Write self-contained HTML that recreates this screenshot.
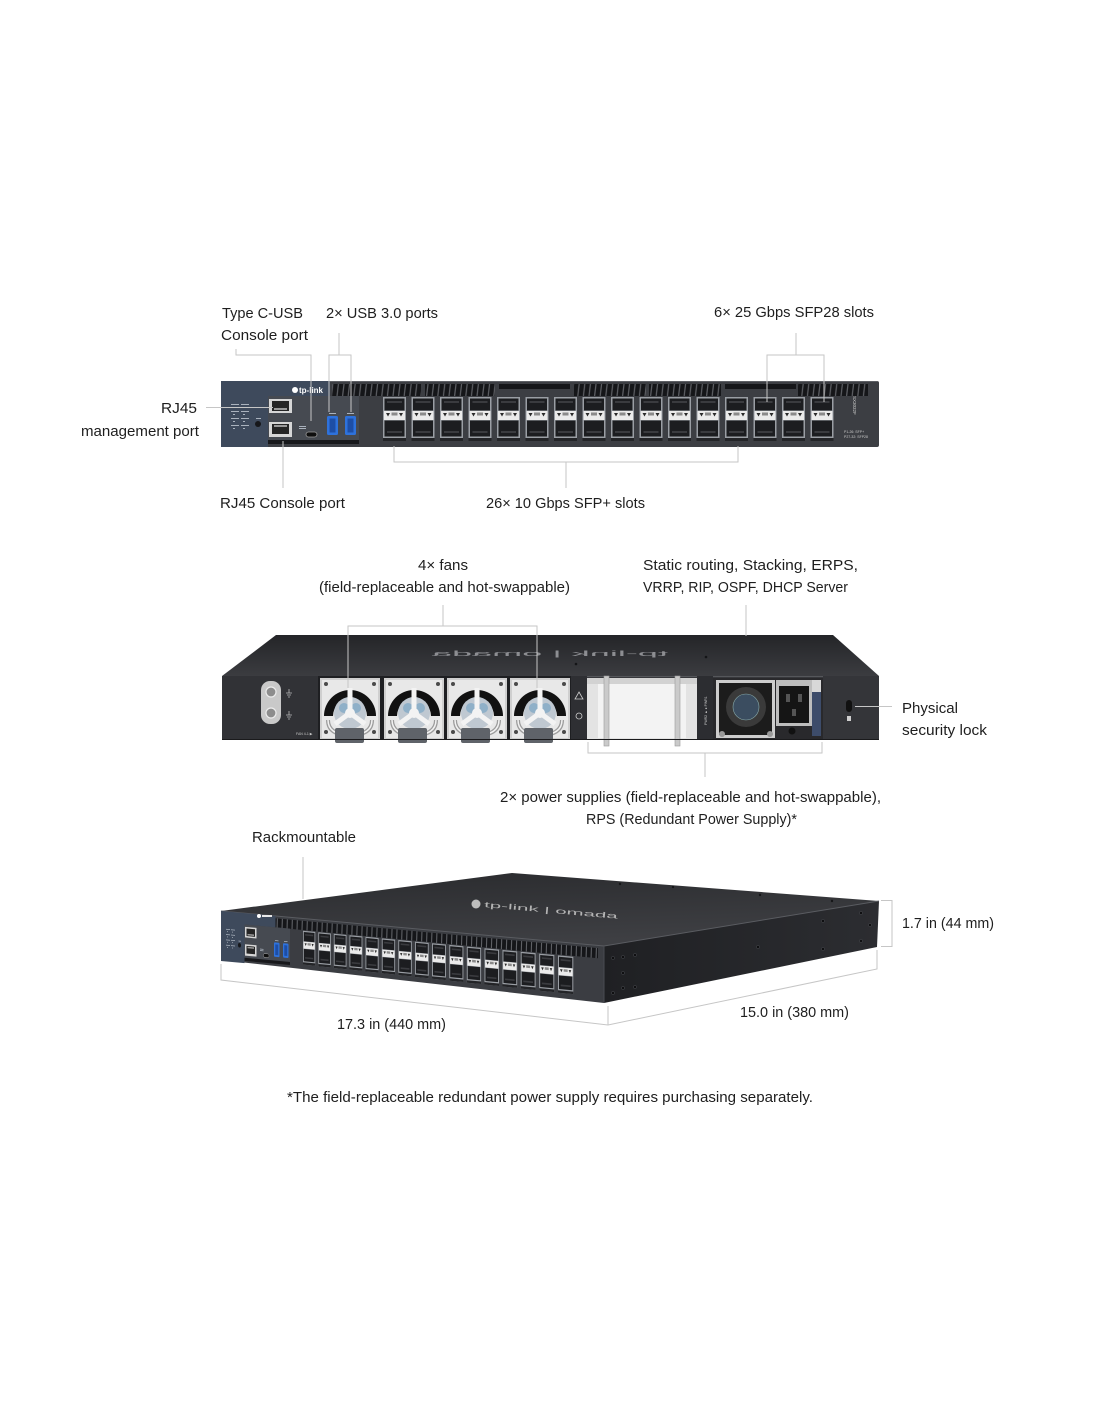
<!DOCTYPE html>
<html><head><meta charset="utf-8"><style>
html,body{margin:0;padding:0;background:#fff;}
svg{display:block;}
.t{font-family:"Liberation Sans",Arial,sans-serif;font-size:15px;fill:#1e1e1e;}
.ln{stroke:#c6c6c6;stroke-width:1;fill:none;}
</style></head><body>
<svg width="1100" height="1422" viewBox="0 0 1100 1422" xmlns="http://www.w3.org/2000/svg">
<defs>
 <pattern id="vent" width="5.6" height="12" patternUnits="userSpaceOnUse">
  <rect width="5.6" height="12" fill="#151619"/>
  <path d="M1 12 L2.4 0" stroke="#5e6065" stroke-width="1.2"/>
 </pattern>
 <pattern id="vent2" width="5" height="60" patternUnits="userSpaceOnUse">
  <rect width="5" height="60" fill="#151619"/>
  <path d="M1 60 L3 0" stroke="#5e6065" stroke-width="1.1"/>
 </pattern>
 <linearGradient id="top2" x1="0" y1="0" x2="0" y2="1">
  <stop offset="0" stop-color="#242528"/><stop offset="1" stop-color="#3b3c40"/>
 </linearGradient>
 <linearGradient id="top3" x1="0" y1="0" x2="0.3" y2="1">
  <stop offset="0" stop-color="#2a2b2e"/><stop offset="1" stop-color="#3e3f43"/>
 </linearGradient>
 <linearGradient id="side3" x1="0" y1="0" x2="1" y2="0">
  <stop offset="0" stop-color="#1f2023"/><stop offset="1" stop-color="#2c2d31"/>
 </linearGradient>
 <g id="sfp">
  <rect x="0" y="0" width="23" height="44" fill="#9a9ea4"/>
  <rect x="1.5" y="1.5" width="20" height="12" fill="#1c1d20"/>
  <rect x="4" y="4" width="15" height="2" fill="#3a3b3f"/>
  <rect x="1" y="14" width="21" height="9" fill="#ebebeb"/>
  <path d="M3 16 L7 16 L5 19.5 Z M16 16 L20 16 L18 19.5 Z" fill="#2a2a2a"/>
  <rect x="8.5" y="15.5" width="6" height="3" fill="#8a8a8a"/>
  <rect x="1.5" y="23.5" width="20" height="16" fill="#1c1d20"/>
  <rect x="4" y="34" width="15" height="2" fill="#3a3b3f"/>
  <rect x="0" y="41" width="23" height="3" fill="#232427"/>
 </g>
 <g id="fpleft">
  <rect x="0" y="0" width="47" height="66" fill="#3e4a5c"/>
  <rect x="47" y="0" width="62" height="15" fill="#3e4a5c"/>
  <rect x="47" y="15" width="91" height="44" fill="#464a51"/>
  <rect x="47" y="59" width="91" height="4" fill="#17181b"/>
  <rect x="48" y="18" width="23" height="14" fill="#d6d6d6"/>
  <rect x="51" y="20" width="17" height="10" fill="#252525"/>
  <rect x="53" y="27" width="13" height="2" fill="#9a9a9a"/>
  <rect x="48" y="41" width="23" height="15" fill="#d6d6d6"/>
  <rect x="51" y="43" width="17" height="10" fill="#252525"/>
  <rect x="53" y="44" width="13" height="2" fill="#9a9a9a"/>
  <rect x="85" y="51" width="11" height="5" rx="2.5" fill="#0e0e0e" stroke="#9a9a9a" stroke-width="0.8"/>
  <rect x="106" y="35" width="11" height="19" rx="1.5" fill="#2e72dc"/>
  <rect x="108.5" y="37.5" width="6" height="14" fill="#1d4ea6"/>
  <rect x="124" y="35" width="11" height="19" rx="1.5" fill="#2e72dc"/>
  <rect x="126.5" y="37.5" width="6" height="14" fill="#1d4ea6"/>
  <circle cx="37" cy="43" r="3" fill="#16171a"/>
  <g fill="#aab2bd">
   <rect x="10" y="23" width="8" height="1"/><rect x="20" y="23" width="8" height="1"/>
   <rect x="12" y="26" width="2" height="1"/><rect x="22" y="26" width="2" height="1"/>
   <rect x="10" y="30" width="8" height="1"/><rect x="20" y="30" width="8" height="1"/>
   <rect x="12" y="33" width="2" height="1"/><rect x="22" y="33" width="2" height="1"/>
   <rect x="10" y="37" width="8" height="1"/><rect x="20" y="37" width="8" height="1"/>
   <rect x="12" y="40" width="2" height="1"/><rect x="22" y="40" width="2" height="1"/>
   <rect x="10" y="44" width="8" height="1"/><rect x="20" y="44" width="8" height="1"/>
   <rect x="12" y="47" width="2" height="1"/><rect x="22" y="47" width="2" height="1"/>
   <rect x="35" y="37" width="5" height="1"/>
  </g>
  <rect x="78" y="45" width="7" height="1" fill="#aab2bd"/>
  <rect x="78" y="47" width="7" height="1" fill="#aab2bd"/>
  <rect x="108" y="32" width="7" height="1" fill="#aab2bd"/>
  <rect x="126" y="32" width="7" height="1" fill="#aab2bd"/>
 </g>
 <g id="fan">
  <rect width="60" height="62" fill="#cfcfcf"/>
  <rect x="2" y="2" width="56" height="58" fill="#e8e8e8"/>
  <path d="M4 38 A26 26 0 0 1 56 38 L47 38 A17 17 0 0 0 13 38 Z" fill="#111"/>
  <circle cx="30" cy="35" r="16" fill="#bfc8d1"/>
  <circle cx="24" cy="30" r="5" fill="#8fb0c8"/>
  <circle cx="36" cy="30" r="5" fill="#8fb0c8"/>
  <path d="M30 35 L30 10 M30 35 L15 46 M30 35 L45 46" stroke="#f3f3f3" stroke-width="5"/>
  <circle cx="30" cy="35" r="5" fill="#f3f3f3"/>
  <path d="M8 42 Q8 57 30 57 Q52 57 52 42" fill="none" stroke="#9c9c9c" stroke-width="4"/>
  <path d="M8 42 Q8 57 30 57 Q52 57 52 42" fill="none" stroke="#f2f2f2" stroke-width="1.5"/>
  <circle cx="6" cy="6" r="2" fill="#4a4a4a"/><circle cx="54" cy="6" r="2" fill="#4a4a4a"/>
  <circle cx="6" cy="54" r="2" fill="#4a4a4a"/><circle cx="54" cy="54" r="2" fill="#4a4a4a"/>
 </g>
</defs>

<rect width="1100" height="1422" fill="#fff"/>

<!-- ============ SECTION 1: FRONT PANEL ============ -->
<rect x="221" y="381" width="658" height="66" rx="2" fill="#3c3e43"/>
<line x1="222" y1="381.5" x2="878" y2="381.5" stroke="#5d5f64" stroke-width="1"/>
<rect x="332" y="384" width="89" height="12" fill="url(#vent)"/>
<rect x="425" y="384" width="70" height="12" fill="url(#vent)"/>
<rect x="499" y="384" width="71" height="5" fill="#151619"/>
<rect x="574" y="384" width="72" height="12" fill="url(#vent)"/>
<rect x="649" y="384" width="72" height="12" fill="url(#vent)"/>
<rect x="725" y="384" width="71" height="5" fill="#151619"/>
<rect x="798" y="384" width="70" height="12" fill="url(#vent)"/>
<use href="#fpleft" transform="translate(221,381)"/>
<circle cx="295" cy="390" r="3" fill="#fff"/>
<text x="299" y="393" font-family="Liberation Sans,Arial,sans-serif" font-size="8" font-weight="bold" fill="#fff">tp-link</text>
<use href="#sfp" x="383" y="397"/>
<use href="#sfp" x="411.5" y="397"/>
<use href="#sfp" x="440" y="397"/>
<use href="#sfp" x="468.5" y="397"/>
<use href="#sfp" x="497" y="397"/>
<use href="#sfp" x="525.5" y="397"/>
<use href="#sfp" x="554" y="397"/>
<use href="#sfp" x="582.5" y="397"/>
<use href="#sfp" x="611" y="397"/>
<use href="#sfp" x="639.5" y="397"/>
<use href="#sfp" x="668" y="397"/>
<use href="#sfp" x="696.5" y="397"/>
<use href="#sfp" x="725" y="397"/>
<use href="#sfp" x="753.5" y="397"/>
<use href="#sfp" x="782" y="397"/>
<use href="#sfp" x="810.5" y="397"/>
<text transform="translate(853,396) rotate(90)" font-family="Liberation Sans,Arial,sans-serif" font-size="4.5" fill="#c9c9c9">SX3032F</text>
<text x="844" y="433" font-family="Liberation Sans,Arial,sans-serif" font-size="3.5" fill="#c9c9c9">P1-26: SFP+</text>
<text x="844" y="438" font-family="Liberation Sans,Arial,sans-serif" font-size="3.5" fill="#c9c9c9">P27-32: SFP28</text>

<!-- connectors sec 1 -->
<path class="ln" d="M236 349 V355 H311 V421"/>
<path class="ln" d="M339 333 V355"/>
<path class="ln" d="M329 412 V355 H351 V412"/>
<path class="ln" d="M796 333 V355"/>
<path class="ln" d="M767 402 V355 H824 V402"/>
<path class="ln" d="M206 407.5 H273"/>
<path class="ln" d="M283 441 V488"/>
<path class="ln" d="M394 446 V462 H738 V446"/>
<path class="ln" d="M566 462 V488"/>

<text class="t" x="222" y="318" textLength="81" lengthAdjust="spacingAndGlyphs">Type C-USB</text>
<text class="t" x="221" y="340" textLength="87" lengthAdjust="spacingAndGlyphs">Console port</text>
<text class="t" x="326" y="318" textLength="112" lengthAdjust="spacingAndGlyphs">2× USB 3.0 ports</text>
<text class="t" x="714" y="317" textLength="160" lengthAdjust="spacingAndGlyphs">6× 25 Gbps SFP28 slots</text>
<text class="t" x="161" y="413" textLength="36" lengthAdjust="spacingAndGlyphs">RJ45</text>
<text class="t" x="81" y="436" textLength="118" lengthAdjust="spacingAndGlyphs">management port</text>
<text class="t" x="220" y="508" textLength="125" lengthAdjust="spacingAndGlyphs">RJ45 Console port</text>
<text class="t" x="486" y="508" textLength="159" lengthAdjust="spacingAndGlyphs">26× 10 Gbps SFP+ slots</text>

<!-- ============ SECTION 2: REAR ============ -->
<polygon points="276,635 833,635 879,676 222,676" fill="url(#top2)"/>
<text transform="translate(550,656) scale(-1,0.45)" text-anchor="middle" font-family="Liberation Sans,Arial,sans-serif" font-size="16" fill="#8d8e92" textLength="236" lengthAdjust="spacingAndGlyphs">tp-link | omada</text>
<circle cx="706" cy="657" r="1.3" fill="#141517"/>
<circle cx="576" cy="664" r="1.3" fill="#141517"/>
<rect x="222" y="676" width="657" height="64" fill="#37383c"/>
<line x1="222" y1="676.5" x2="879" y2="676.5" stroke="#55575b"/>
<rect x="222" y="676" width="96" height="64" fill="#313236"/>
<rect x="261" y="681" width="20" height="43" rx="9" fill="#c9c9c9"/>
<circle cx="271" cy="692" r="5" fill="#8d8d8d" stroke="#ececec" stroke-width="1.2"/>
<circle cx="271" cy="713" r="5" fill="#8d8d8d" stroke="#ececec" stroke-width="1.2"/>
<path d="M286 693 H292 M289 689 V693 M287 695 H291 M288 697 H290 M286 715 H292 M289 711 V715 M287 717 H291 M288 719 H290" stroke="#bbb" stroke-width="0.8"/>
<text x="296" y="735" font-family="Liberation Sans,Arial,sans-serif" font-size="3.5" fill="#c9c9c9">FAN 4-1 ▶</text>
<rect x="318" y="676" width="253" height="64" fill="#1e1f22"/>
<use href="#fan" x="320" y="678"/>
<use href="#fan" x="384" y="678"/>
<use href="#fan" x="447" y="678"/>
<use href="#fan" x="510" y="678"/>
<rect x="335" y="728" width="29" height="15" rx="2" fill="#5f6369"/>
<rect x="398" y="728" width="29" height="15" rx="2" fill="#5f6369"/>
<rect x="461" y="728" width="29" height="15" rx="2" fill="#5f6369"/>
<rect x="524" y="728" width="29" height="15" rx="2" fill="#5f6369"/>
<rect x="571" y="676" width="16" height="64" fill="#2e2f33"/>
<path d="M579 692 L583 699 L575 699 Z" fill="none" stroke="#cfcfcf" stroke-width="0.8"/>
<circle cx="579" cy="716" r="3" fill="none" stroke="#cfcfcf" stroke-width="0.8"/>
<rect x="587" y="678" width="110" height="62" fill="#e3e3e3"/>
<rect x="598" y="684" width="88" height="54" fill="#f3f3f3"/>
<rect x="587" y="678" width="110" height="6" fill="#d2d2d2"/>
<rect x="604" y="676" width="5" height="70" fill="#cacaca" stroke="#9a9a9a" stroke-width="0.6"/>
<rect x="675" y="676" width="5" height="70" fill="#cacaca" stroke="#9a9a9a" stroke-width="0.6"/>
<rect x="697" y="676" width="16" height="64" fill="#2c2d31"/>
<text transform="translate(707,725) rotate(-90)" font-family="Liberation Sans,Arial,sans-serif" font-size="3.5" fill="#c9c9c9">PWR2 ▲ ● PWR1</text>
<rect x="713" y="678" width="110" height="62" fill="#29292c"/>
<rect x="716" y="680" width="59" height="58" fill="#cdcdcd"/>
<rect x="719" y="683" width="53" height="52" fill="#1c1c1c"/>
<circle cx="746" cy="707" r="20" fill="#3a3a3a"/>
<circle cx="746" cy="707" r="13" fill="#3b4d60" stroke="#8aa" stroke-width="0.6"/>
<circle cx="722" cy="734" r="3" fill="#999"/><circle cx="770" cy="734" r="3" fill="#999"/>
<rect x="776" y="680" width="36" height="46" fill="#bdbdbd"/>
<rect x="779" y="686" width="30" height="37" fill="#151515"/>
<rect x="786" y="694" width="4" height="8" fill="#555"/><rect x="798" y="694" width="4" height="8" fill="#555"/>
<rect x="792" y="709" width="4" height="7" fill="#555"/>
<circle cx="792" cy="731" r="3.5" fill="#111"/>
<rect x="812" y="688" width="9" height="48" fill="#3d4c6a"/>
<rect x="812" y="680" width="9" height="12" fill="#d8d8d8"/>
<rect x="823" y="676" width="56" height="64" fill="#343539"/>
<rect x="846" y="700" width="6" height="12" rx="3" fill="#111"/>
<rect x="847" y="716" width="4" height="5" fill="#cfcfcf"/>
<line x1="222" y1="739.5" x2="879" y2="739.5" stroke="#1a1a1c"/>

<!-- connectors sec 2 -->
<path class="ln" d="M443 605 V626"/>
<path class="ln" d="M348 688 V626 H537 V688"/>
<path class="ln" d="M746 605 V636"/>
<path class="ln" d="M855 706.5 H892"/>
<path class="ln" d="M588 742 V753 H822 V742"/>
<path class="ln" d="M705 753 V777"/>

<text class="t" x="418" y="570" textLength="50" lengthAdjust="spacingAndGlyphs">4× fans</text>
<text class="t" x="319" y="592" textLength="251" lengthAdjust="spacingAndGlyphs">(field-replaceable and hot-swappable)</text>
<text class="t" x="643" y="570" textLength="215" lengthAdjust="spacingAndGlyphs">Static routing, Stacking, ERPS,</text>
<text class="t" x="643" y="592" textLength="205" lengthAdjust="spacingAndGlyphs">VRRP, RIP, OSPF, DHCP Server</text>
<text class="t" x="902" y="713" textLength="56" lengthAdjust="spacingAndGlyphs">Physical</text>
<text class="t" x="902" y="735" textLength="85" lengthAdjust="spacingAndGlyphs">security lock</text>
<text class="t" x="500" y="802" textLength="381" lengthAdjust="spacingAndGlyphs">2× power supplies (field-replaceable and hot-swappable),</text>
<text class="t" x="586" y="824" textLength="211" lengthAdjust="spacingAndGlyphs">RPS (Redundant Power Supply)*</text>

<!-- ============ SECTION 3: 3/4 VIEW ============ -->
<polygon points="221,911 512,873 879,901 604,946" fill="url(#top3)"/>
<polygon points="604,946 879,901 877,947 604,1003" fill="url(#side3)"/>
<polygon points="221,911 604,946 604,1003 222,960" fill="#3b3d42"/>
<polyline points="221,911 604,946 879,901" fill="none" stroke="#5a5c61" stroke-width="1"/>
<line x1="604" y1="946" x2="604" y2="1003" stroke="#4a4c51"/>
<circle cx="476" cy="904" r="4.5" fill="#bdbdbd"/>
<text transform="translate(484,907) rotate(5) scale(1,0.55)" font-family="Liberation Sans,Arial,sans-serif" font-size="14" fill="#b4b4b4" textLength="134" lengthAdjust="spacingAndGlyphs">tp-link | omada</text>
<circle cx="673" cy="887" r="1.2" fill="#151618"/>
<circle cx="760" cy="895" r="1.2" fill="#151618"/>
<circle cx="832" cy="901" r="1.2" fill="#151618"/>
<circle cx="620" cy="884" r="1.2" fill="#151618"/>
<polygon points="275,918.2 598,948.1 598,958.3 275,927.4" fill="url(#vent2)"/>
<use href="#fpleft" transform="matrix(0.5,0.0457,0,0.757,221,911)"/>
<circle cx="259" cy="916" r="2" fill="#fff"/>
<rect x="262" y="915" width="10" height="2" fill="#e8e8e8"/>
<use href="#sfp" transform="matrix(0.5345,0.0489,0,0.7684,303.0,930.8)"/>
<use href="#sfp" transform="matrix(0.5432,0.0496,0,0.7732,318.3,932.3)"/>
<use href="#sfp" transform="matrix(0.5519,0.0504,0,0.7782,333.8,933.8)"/>
<use href="#sfp" transform="matrix(0.5607,0.0512,0,0.7832,349.5,935.2)"/>
<use href="#sfp" transform="matrix(0.5694,0.0520,0,0.7882,365.5,936.8)"/>
<use href="#sfp" transform="matrix(0.5781,0.0528,0,0.7933,381.8,938.4)"/>
<use href="#sfp" transform="matrix(0.5868,0.0536,0,0.7986,398.3,940.0)"/>
<use href="#sfp" transform="matrix(0.5955,0.0544,0,0.8038,415.0,941.6)"/>
<use href="#sfp" transform="matrix(0.6043,0.0552,0,0.8092,432.0,943.2)"/>
<use href="#sfp" transform="matrix(0.6130,0.0560,0,0.8147,449.3,944.9)"/>
<use href="#sfp" transform="matrix(0.6217,0.0568,0,0.8203,466.8,946.6)"/>
<use href="#sfp" transform="matrix(0.6304,0.0576,0,0.8259,484.5,948.3)"/>
<use href="#sfp" transform="matrix(0.6391,0.0584,0,0.8315,502.5,950.0)"/>
<use href="#sfp" transform="matrix(0.6479,0.0592,0,0.8373,520.7,951.8)"/>
<use href="#sfp" transform="matrix(0.6566,0.0600,0,0.8432,539.2,953.6)"/>
<use href="#sfp" transform="matrix(0.6653,0.0608,0,0.8491,558.0,955.4)"/>
<g fill="#0f0f11" stroke="#4d4f54" stroke-width="0.5">
 <circle cx="613" cy="958" r="1.6"/><circle cx="623" cy="957" r="1.6"/><circle cx="635" cy="955" r="1.6"/>
 <circle cx="623" cy="973" r="1.6"/><circle cx="623" cy="988" r="1.6"/><circle cx="635" cy="987" r="1.6"/>
 <circle cx="613" cy="993" r="1.6"/><circle cx="758" cy="947" r="1.6"/><circle cx="823" cy="921" r="1.6"/>
 <circle cx="823" cy="949" r="1.6"/><circle cx="861" cy="913" r="1.6"/><circle cx="861" cy="941" r="1.6"/>
 <circle cx="870" cy="925" r="1.6"/>
</g>

<!-- connectors sec 3 -->
<path class="ln" d="M303 857 V899"/>
<path class="ln" d="M221 964 V980 L608 1025 L877 969 V950"/>
<path class="ln" d="M608 1006 V1025"/>
<path class="ln" d="M881 900.5 H892 V946.5 H881"/>

<text class="t" x="252" y="842" textLength="104" lengthAdjust="spacingAndGlyphs">Rackmountable</text>
<text class="t" x="902" y="928" textLength="92" lengthAdjust="spacingAndGlyphs">1.7 in (44 mm)</text>
<text class="t" x="337" y="1029" textLength="109" lengthAdjust="spacingAndGlyphs">17.3 in (440 mm)</text>
<text class="t" x="740" y="1017" textLength="109" lengthAdjust="spacingAndGlyphs">15.0 in (380 mm)</text>
<text class="t" x="287" y="1102" textLength="526" lengthAdjust="spacingAndGlyphs">*The field-replaceable redundant power supply requires purchasing separately.</text>
</svg>
</body></html>
